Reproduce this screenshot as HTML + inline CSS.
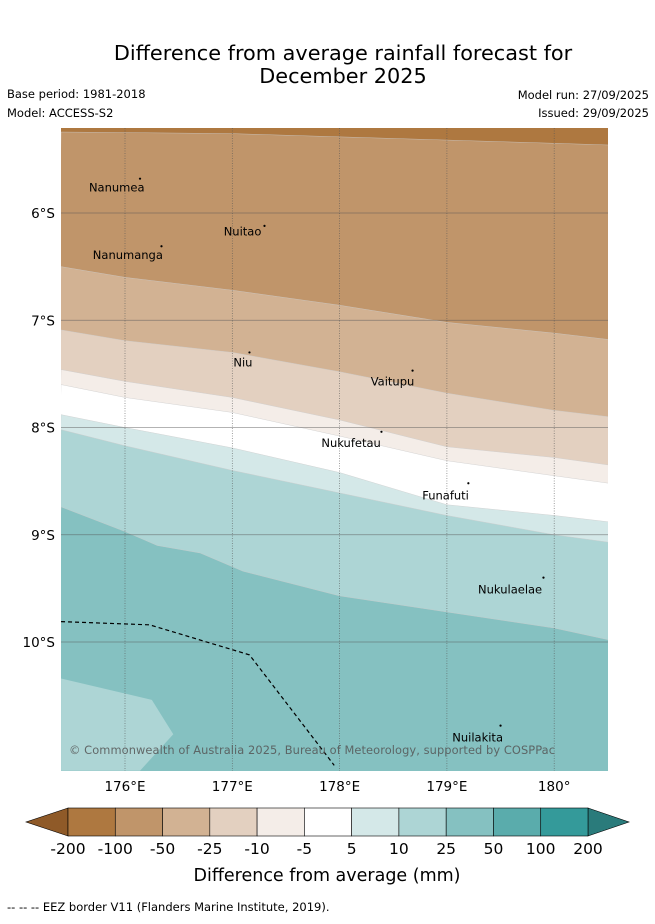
<!DOCTYPE html>
<html><head><meta charset="utf-8"><style>
body{margin:0;background:#fff;font-family:"Liberation Sans","DejaVu Sans",sans-serif}
svg text{font-family:"DejaVu Sans","Liberation Sans",sans-serif}
</style></head><body>
<svg id="c" width="655" height="919" viewBox="0 0 655 919" xmlns="http://www.w3.org/2000/svg">
<text x="343" y="60" text-anchor="middle" font-size="20.8">Difference from average rainfall forecast for</text>
<text x="343" y="83" text-anchor="middle" font-size="20.8">December 2025</text>
<text x="7" y="98" font-size="11.5">Base period: 1981-2018</text>
<text x="7" y="117" font-size="11.5">Model: ACCESS-S2</text>
<text x="649" y="99" font-size="11.5" text-anchor="end">Model run: 27/09/2025</text>
<text x="649" y="117" font-size="11.5" text-anchor="end">Issued: 29/09/2025</text>
<defs><clipPath id="mc"><rect x="61" y="128" width="547" height="643"/></clipPath></defs>
<g id="map" clip-path="url(#mc)"></g>
<text x="312" y="754" text-anchor="middle" font-size="11.4" fill="#555" fill-opacity="0.85" textLength="486">© Commonwealth of Australia 2025, Bureau of Meteorology, supported by COSPPac</text>
<g id="cb"></g>
<text x="327" y="881" text-anchor="middle" font-size="17.5">Difference from average (mm)</text>
<text x="7" y="911" font-size="11.5">-- -- -- EEZ border V11 (Flanders Marine Institute, 2019).</text>
</svg>
<script>
const lons=[175.404,176,177,178,179,180,180.51];
const b0=[5.245,5.25,5.26,5.29,5.32,5.35,5.366];
const b1=[6.50,6.60,6.72,6.86,7.02,7.12,7.18];
const b2=[7.09,7.19,7.30,7.48,7.68,7.84,7.90];
const b3=[7.46,7.57,7.72,7.93,8.18,8.28,8.35];
const b4=[7.60,7.72,7.86,8.08,8.31,8.45,8.52];
const b5=[7.88,8.00,8.19,8.42,8.72,8.82,8.88];
const b6=[8.02,8.17,8.40,8.61,8.82,9.00,9.07];
const b7lons=[175.404,176,176.3,176.7,177.1,178,179,180,180.51];
const b7=[8.74,8.97,9.10,9.17,9.34,9.57,9.72,9.87,9.98];
const patchLons=[175.404,176.25,176.45,176.14,175.404];
const patchLats=[10.34,10.54,10.86,11.2,11.2];
const eezLons=[175.404,176.23,177.16,177.95];
const eezLats=[9.81,9.84,10.12,11.15];
const bandColors=['#ae7840','#c0956a','#d2b293','#e3d0c0','#f4ede8','#ffffff','#d4e8e8','#add5d5','#85c1c1'];
const lonTicks=[176,177,178,179,180];
const lonLabels=['176°E','177°E','178°E','179°E','180°'];
const latTicks=[6,7,8,9,10];
const latLabels=['6°S','7°S','8°S','9°S','10°S'];
const cbLabels=['-200','-100','-50','-25','-10','-5','5','10','25','50','100','200'];
const cbColors=['#ae7840','#c0956a','#d2b293','#e3d0c0','#f4ede8','#ffffff','#d4e8e8','#add5d5','#85c1c1','#5aacac','#349a9a'];
const islands=[['Nanumea',175.664,5.80,176.14,5.68],['Nuitao',176.92,6.21,177.30,6.12],['Nanumanga',175.70,6.43,176.34,6.31],['Niu',177.01,7.43,177.16,7.30],['Vaitupu',178.29,7.61,178.68,7.47],['Nukufetau',177.83,8.18,178.39,8.04],['Funafuti',178.77,8.67,179.20,8.52],['Nukulaelae',179.29,9.55,179.90,9.40],['Nuilakita',179.05,10.93,179.50,10.78]];
const X=l=>125+(l-176)*107.3, Y=l=>213+(l-6)*107.25;
const NS='http://www.w3.org/2000/svg';
function mk(p,t,a){const e=document.createElementNS(NS,t);for(const k in a)e.setAttribute(k,a[k]);p.appendChild(e);return e;}
const map=document.getElementById('map');
let r=mk(map,'rect',{x:61,y:128,width:547,height:643,fill:bandColors[0]});


const bounds=[[lons,b0],[lons,b1],[lons,b2],[lons,b3],[lons,b4],[lons,b5],[lons,b6],[b7lons,b7]];
bounds.forEach((b,i)=>{let d='M'+b[0].map((l,j)=>X(l)+','+Y(b[1][j])).join(' L')+' L620,790 L50,790Z';
 let p=mk(map,'path',{d:d,fill:bandColors[i+1],stroke:'#ccc',"stroke-width":0.4});
 
 });
let pd='M'+patchLons.map((l,j)=>X(l)+','+Y(patchLats[j])).join(' L')+'Z';
let pp=mk(map,'path',{d:pd,fill:'#add5d5'});


lonTicks.forEach((l,i)=>{let g=mk(map,'line',{x1:X(l),x2:X(l),y1:128,y2:771,stroke:'#555',"stroke-width":0.7,"stroke-dasharray":'1,1.5',"stroke-opacity":0.8});
 
 
 let t=mk(document.getElementById('c'),'text',{x:X(l),y:791,"text-anchor":'middle',"font-size":13.5});t.textContent=lonLabels[i];
 
 });
latTicks.forEach((l,i)=>{let g=mk(map,'line',{x1:61,x2:608,y1:Y(l),y2:Y(l),stroke:'#555',"stroke-width":0.7,"stroke-opacity":0.6});
 
 
 let t=mk(document.getElementById('c'),'text',{x:55,y:Y(l)+5,"text-anchor":'end',"font-size":13.5});t.textContent=latLabels[i];
 
 });
let ez=mk(map,'polyline',{points:eezLons.map((l,j)=>X(l)+','+Y(eezLats[j])).join(' '),fill:'none',stroke:'#000',"stroke-width":1.2,"stroke-dasharray":'4,3'});


islands.forEach(s=>{let t=mk(map,'text',{x:X(s[1]),y:Y(s[2]),"font-size":11.5});t.textContent=s[0];
 
 
 let d=mk(map,'circle',{cx:X(s[3]),cy:Y(s[4]),r:1.1,fill:'#000'});
 
 });
const cb=document.getElementById('cb');
const x0=68,w=(588-68)/cbColors.length;
let lt=mk(cb,'path',{d:'M68,808 L26,822 L68,836Z',fill:'#8f5a28',stroke:'#000',"stroke-width":0.6});


let rt=mk(cb,'path',{d:'M588,808 L629,822 L588,836Z',fill:'#2a7b7b',stroke:'#000',"stroke-width":0.6});


cbColors.forEach((c,i)=>{let s=mk(cb,'rect',{x:x0+i*w,y:808,width:w,height:28,fill:c,stroke:'#000',"stroke-width":0.6});
 
 });
cbLabels.forEach((l,i)=>{let t=mk(cb,'text',{x:x0+i*w,y:854,"text-anchor":'middle',"font-size":15.5});t.textContent=l;
 
 });
</script>
</body></html>
